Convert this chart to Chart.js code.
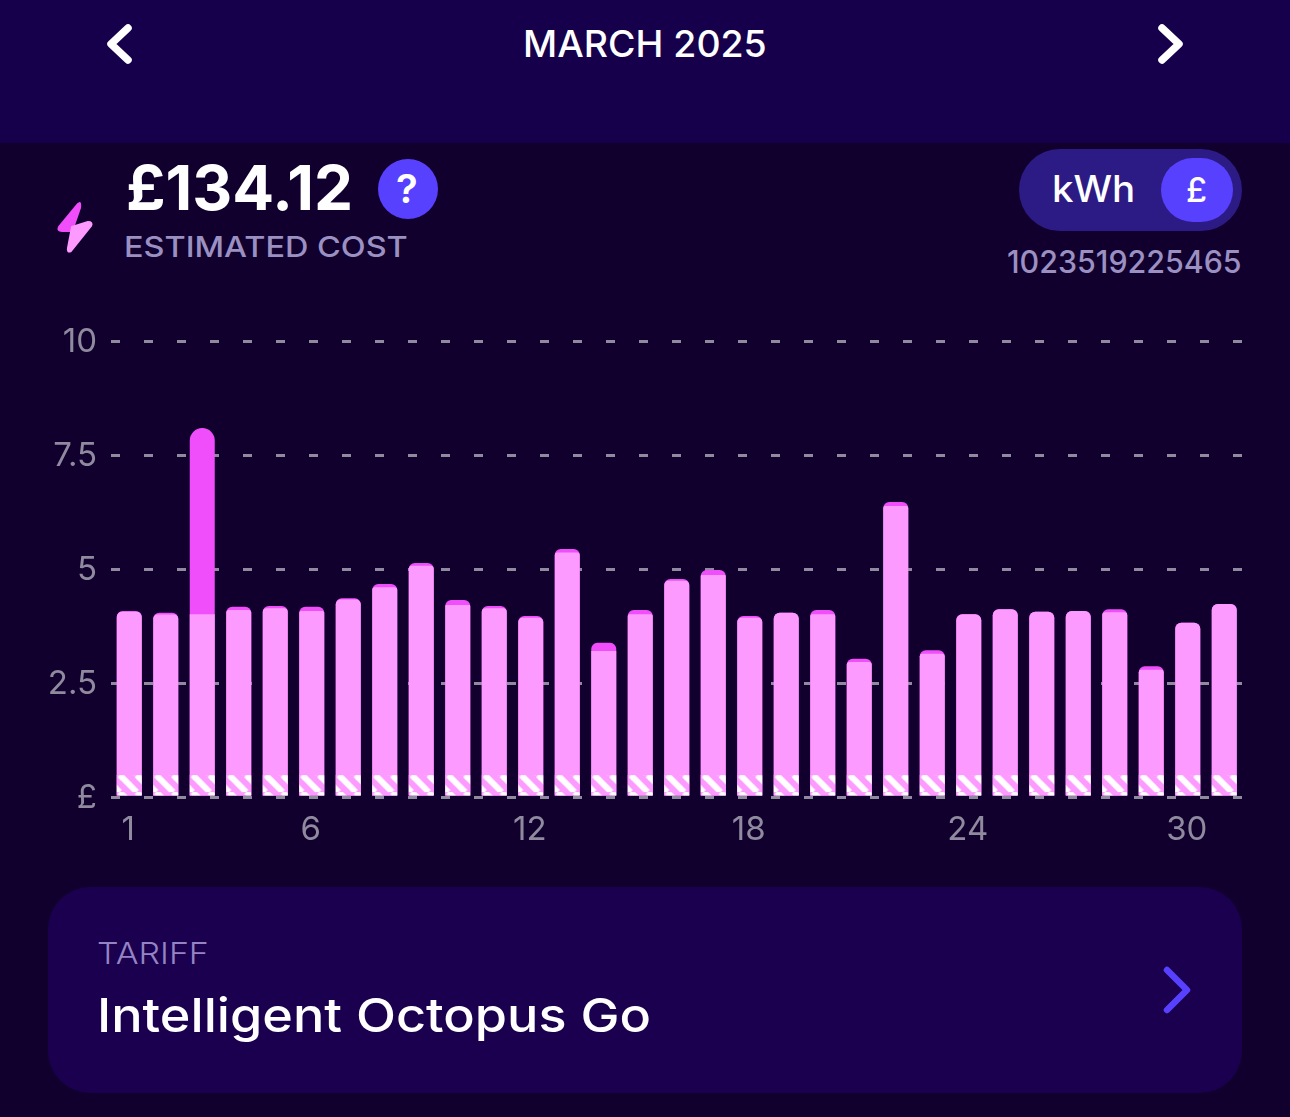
<!DOCTYPE html>
<html>
<head>
<meta charset="utf-8">
<title>March 2025</title>
<script src="https://cdn.jsdelivr.net/npm/chart.js@4"></script>
<style>
  html, body { margin: 0; padding: 0; }
  body { width: 1290px; height: 1117px; background: #11002e; position: relative; overflow: hidden; font-family: Inter, sans-serif; color: #fff; }
  .abs { position: absolute; white-space: nowrap; line-height: 1; transform-origin: left center; }
  #topband { position: absolute; left: 0; top: 0; width: 1290px; height: 143px; background: #17004b; }
  #card { position: absolute; left: 48px; top: 887px; width: 1194px; height: 206px; border-radius: 42px; background: #1a004e; }
  #pill { position: absolute; left: 1019px; top: 149px; width: 223px; height: 82px; border-radius: 41px; background: #2d1b85; }
  #pillknob { position: absolute; left: 1161px; top: 158px; width: 72px; height: 64px; border-radius: 32px; background: #5840ff; }
  #help { position: absolute; left: 378px; top: 159px; width: 60px; height: 60px; border-radius: 30px; background: #5840ff; }
  canvas { position: absolute; left: 0; top: 300px; }
  svg { position: absolute; left: 0; top: 0; }
</style>
</head>
<body>
<div id="topband"></div>
<div id="card"></div>
<div id="pill"></div>
<div id="pillknob"></div>
<div id="help"></div>

<svg width="1290" height="1117" fill="none" stroke-linecap="round" stroke-linejoin="round">
  <path d="M128 28 L111 44 L128 60" stroke="#fff" stroke-width="7.5"/>
  <path d="M1162 28 L1179 44 L1162 60" stroke="#fff" stroke-width="7.5"/>
  <path d="M1167 970 L1187 990 L1167 1010" stroke="#5840ff" stroke-width="6.5"/>
  <path d="M78 204 L59 227 Q57 231 62 231 L72 231 L80 208 Q81 201 78 204 Z" fill="#f04dfb" stroke="#f04dfb" stroke-width="2"/>
  <path d="M72 227 L88 222 Q93 222 91 226 L71 251 Q67 253 68 248 Z" fill="#fd9aff" stroke="#fd9aff" stroke-width="2"/>
</svg>

<div class="abs" style="left:523px;top:25px;font-size:37px;font-weight:500;transform:scaleX(1.012);">MARCH 2025</div>
<div class="abs" style="left:126px;top:157px;font-size:62px;font-weight:700;">£134.12</div>
<div class="abs" style="left:396px;top:169px;font-size:40px;font-weight:600;">?</div>
<div class="abs" style="left:124px;top:232px;font-size:29px;font-weight:500;color:#9b90c2;transform:scaleX(1.118);">ESTIMATED COST</div>
<div class="abs" style="left:1052px;top:170px;font-size:37px;font-weight:500;transform:scaleX(1.04);">kWh</div>
<div class="abs" style="left:1186px;top:173px;font-size:34px;font-weight:500;">£</div>
<div class="abs" style="left:1007px;top:246px;font-size:31px;font-weight:500;color:#9b90c2;transform:scaleX(0.98);">1023519225465</div>
<div class="abs" style="left:97px;top:938px;font-size:30px;font-weight:300;color:#9484c4;transform:scaleX(1.13);">TARIFF</div>
<div class="abs" style="left:97px;top:991px;font-size:47px;font-weight:500;transform:scaleX(1.11);">Intelligent Octopus Go</div>

<canvas id="chart" width="1290" height="560"></canvas>

<script>
const days = ["1","2","3","4","5","6","7","8","9","10","11","12","13","14","15","16","17","18","19","20","21","22","23","24","25","26","27","28","29","30","31"];
const shownDays = ["1","6","12","18","24","30"];
const yTicks = ["£","2.5","5","7.5","10"];

// top of the whole bar
const totalCost = [4.08,4.04,8.09,4.17,4.19,4.17,4.36,4.67,5.13,4.32,4.19,3.97,5.44,3.38,4.10,4.78,4.98,3.97,4.04,4.10,3.03,6.47,3.22,4.01,4.12,4.06,4.08,4.12,2.87,3.82,4.23];
// top of the light part
const offPeakCost = [4.06,4.00,4.01,4.10,4.14,4.08,4.33,4.60,5.07,4.21,4.14,3.93,5.36,3.20,4.01,4.74,4.87,3.93,4.04,4.01,2.96,6.38,3.14,4.01,4.12,4.06,4.08,4.05,2.79,3.82,4.23];
// hatched standing charge
const standingCharge = [0.48,0.48,0.48,0.48,0.48,0.48,0.48,0.48,0.48,0.48,0.48,0.48,0.48,0.48,0.48,0.48,0.48,0.48,0.48,0.48,0.48,0.48,0.48,0.48,0.48,0.48,0.48,0.48,0.48,0.48,0.48];

const MAGENTA = "#f04dfb";
const LIGHT = "#fd9aff";
const GREY = "#8f8a9e";
const BAR_W = 25;
const RADIUS = 6;
const TILE = 17;

// one stripe tile, lines going down to the right
function makeTile() {
  const c = document.createElement("canvas");
  c.width = TILE;
  c.height = TILE;
  const g = c.getContext("2d");
  g.fillStyle = LIGHT;
  g.fillRect(0, 0, TILE, TILE);
  g.strokeStyle = "#ffffff";
  g.lineWidth = 6;
  [-TILE, 0, TILE].forEach((o) => {
    g.beginPath();
    g.moveTo(o, 0);
    g.lineTo(o + TILE, TILE);
    g.stroke();
  });
  return c;
}
const tile = makeTile();

function hatch(ctx) {
  const p = ctx.chart.ctx.createPattern(tile, "repeat");
  const x = ctx.chart.scales.x.getPixelForValue(ctx.dataIndex) - BAR_W / 2 + 3;
  const y = ctx.chart.scales.y.getPixelForValue(standingCharge[ctx.dataIndex]);
  p.setTransform(new DOMMatrix().translate(x, y));
  return p;
}

function topRadius(r) {
  return { topLeft: r, topRight: r, bottomLeft: 0, bottomRight: 0 };
}

function totalRadius(ctx) {
  return topRadius(ctx.dataIndex === 2 ? BAR_W / 2 : RADIUS);
}

// the light part follows the rounded corner when the magenta on top is thin
function lightRadius(ctx) {
  const y = ctx.chart.scales.y;
  const i = ctx.dataIndex;
  const gap = y.getPixelForValue(offPeakCost[i]) - y.getPixelForValue(totalCost[i]);
  return topRadius(Math.max(0, RADIUS - gap));
}

new Chart(document.getElementById("chart"), {
  type: "bar",
  data: {
    labels: days,
    datasets: [
      { data: standingCharge, backgroundColor: hatch, order: 1 },
      { data: offPeakCost, backgroundColor: LIGHT, borderRadius: lightRadius, order: 2 },
      { data: totalCost, backgroundColor: MAGENTA, borderRadius: totalRadius, order: 3 },
    ],
  },
  options: {
    responsive: false,
    animation: false,
    layout: { padding: { top: 41, right: 47.5, bottom: 0, left: 0 } },
    datasets: { bar: { grouped: false, barThickness: BAR_W, inflateAmount: 0 } },
    plugins: { legend: { display: false }, tooltip: { enabled: false } },
    scales: {
      x: {
        grid: { display: false },
        border: { display: false },
        afterFit: (s) => { s.height = 63; },
        ticks: {
          autoSkip: false,
          maxRotation: 0,
          padding: 5,
          labelOffset: -1,
          color: GREY,
          font: { family: "Inter", size: 33, weight: "400" },
          callback: function (v, i) {
            return shownDays.includes(days[i]) ? days[i] : "";
          },
        },
      },
      y: {
        min: 0,
        max: 10,
        grid: { color: GREY, lineWidth: 3, drawTicks: false },
        border: { display: false, dash: [9, 24] },
        afterFit: (s) => { s.width = 111; },
        ticks: {
          stepSize: 2.5,
          padding: 14,
          labelOffset: 1.5,
          color: GREY,
          font: { family: "Inter", size: 33, weight: "400" },
          callback: (v, i) => yTicks[i],
        },
      },
    },
  },
});
</script>
</body>
</html>
